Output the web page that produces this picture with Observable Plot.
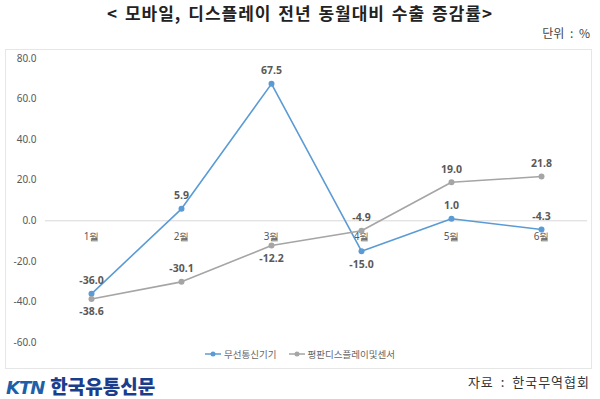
<!DOCTYPE html>
<html><head><meta charset="utf-8">
<script src="https://cdn.jsdelivr.net/npm/d3@7"></script>
<script src="https://cdn.jsdelivr.net/npm/@observablehq/plot@0.6"></script>
<style>
body{margin:0;background:#fff;font-family:"Noto Sans CJK KR","Noto Sans",sans-serif;}
#wrap{position:relative;width:600px;height:399px;overflow:hidden;}
#title{position:absolute;left:0;top:0;width:600px;text-align:center;font-size:17px;font-weight:bold;color:#222;letter-spacing:1px;word-spacing:2px;line-height:26px;}
#unit{position:absolute;right:10px;top:24px;font-size:12px;color:#444;word-spacing:3px;}
#panel{position:absolute;left:5px;top:49px;width:587px;height:320px;border:1px solid #e6e6e6;box-sizing:border-box;}
#chart{position:absolute;left:0;top:47px;}
#legend{position:absolute;left:0;top:347px;width:600px;text-align:center;font-size:9.5px;color:#666;}
#legend span{display:inline-flex;align-items:center;margin:0 6px;}
#legend svg{margin-right:3px;}
#logo{position:absolute;left:6px;top:372px;font-weight:900;white-space:nowrap;}
#logo .ktn{font-family:"DejaVu Sans",sans-serif;font-style:italic;color:#1d5fa8;font-size:18px;letter-spacing:-1px;}
#logo .kr{font-family:"Noto Sans CJK KR";color:#1a3d8c;font-size:19px;margin-left:6px;}
#source{position:absolute;right:10px;top:372px;font-size:13px;color:#333;letter-spacing:1px;word-spacing:3px;}
</style></head>
<body><div id="wrap">
<div id="title">&lt; 모바일, 디스플레이 전년 동월대비 수출 증감률&gt;</div>
<div id="unit">단위 : %</div>
<div id="panel"></div>
<div id="chart"></div>
<div id="legend"></div>
<div id="logo"><span class="ktn">KTN</span><span class="kr">한국유통신문</span></div>
<div id="source">자료 : 한국무역협회</div>
</div>
<script>
const months = ["1월","2월","3월","4월","5월","6월"];
const seriesNames = ["무선통신기기","평판디스플레이및센서"];
const wireless = [-36.0, 5.9, 67.5, -15.0, 1.0, -4.3];
const display = [-38.6, -30.1, -12.2, -4.9, 19.0, 21.8];
const yTicks = [80, 60, 40, 20, 0, -20, -40, -60];
const colors = ["#5b9bd5", "#a5a5a5"];
// labels drawn below their point (series index, month)
const belowLabels = new Set(["1|1월", "1|3월", "0|4월"]);

const fmt = v => v.toFixed(1);
const rows = [];
[wireless, display].forEach((vals, s) => vals.forEach((v, i) => rows.push({series: seriesNames[s], s, month: months[i], value: v})));
const isBelow = d => belowLabels.has(d.s + "|" + d.month);

const plot = Plot.plot({
  width: 600, height: 305,
  marginLeft: 45, marginRight: 13, marginTop: 11, marginBottom: 10,
  style: {fontFamily: "'Noto Sans', sans-serif", background: "transparent"},
  x: {type: "point", domain: months, padding: 0.5, axis: null},
  y: {domain: [-60, 80], ticks: yTicks, tickFormat: fmt, label: null},
  color: {domain: seriesNames, range: colors},
  marks: [
    Plot.axisY({ticks: yTicks, tickFormat: fmt, tickSize: 0, tickPadding: 9, fontSize: 10, fill: "#595959", label: null}),
    Plot.ruleY([0], {stroke: "#d9d9d9", strokeWidth: 1}),
    Plot.text(months, {x: d => d, y: 0, dy: 16, text: d => d, fill: "#595959", fontSize: 10}),
    Plot.line(rows, {x: "month", y: "value", z: "series", stroke: "series", strokeWidth: 1.6}),
    Plot.dot(rows, {x: "month", y: "value", fill: "series", r: 3}),
    Plot.text(rows.filter(d => !isBelow(d)), {x: "month", y: "value", text: d => fmt(d.value), dy: -13, fill: "#595959", fontSize: 10.5, fontWeight: "bold"}),
    Plot.text(rows.filter(isBelow), {x: "month", y: "value", text: d => fmt(d.value), dy: 13, fill: "#595959", fontSize: 10.5, fontWeight: "bold"})
  ]
});
document.getElementById("chart").appendChild(plot);

const leg = document.getElementById("legend");
seriesNames.forEach((n, i) => {
  const sp = document.createElement("span");
  sp.innerHTML = `<svg width="16" height="8"><line x1="0" y1="4" x2="16" y2="4" stroke="${colors[i]}" stroke-width="1.5"/><circle cx="8" cy="4" r="2.5" fill="${colors[i]}"/></svg>${n}`;
  leg.appendChild(sp);
});
</script>
</body></html>
